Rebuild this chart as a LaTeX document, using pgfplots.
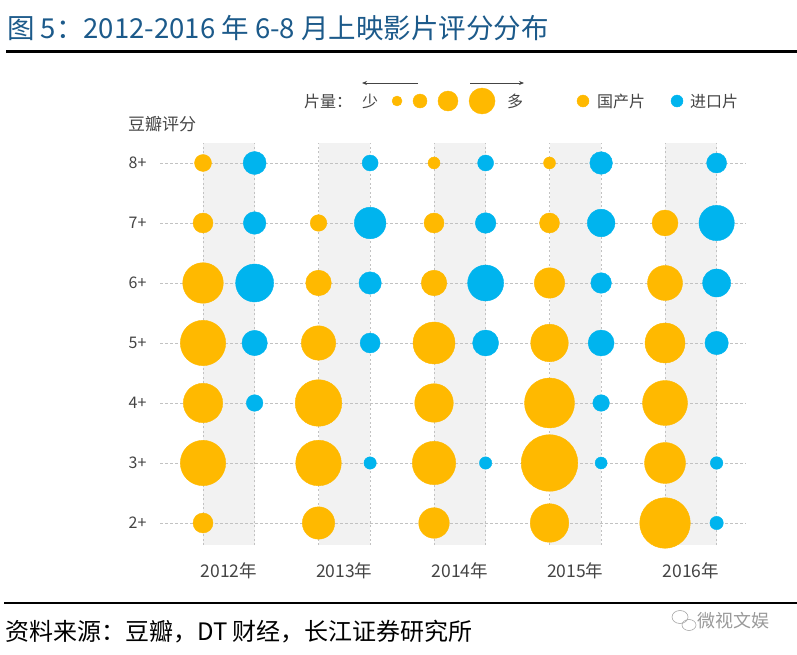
\documentclass[border=0pt]{standalone}
\usepackage{pgfplots}
\pgfplotsset{compat=1.18}
\usepackage{pgfplotstable}
\usetikzlibrary{arrows.meta}
\usepackage{fontspec}
\setmainfont{Noto Sans CJK SC}
\definecolor{orangeC}{HTML}{FFB900}
\definecolor{blueC}{HTML}{00B4EE}
\definecolor{bandC}{HTML}{F2F2F2}
\definecolor{gridC}{HTML}{C2C2C2}
\definecolor{titleC}{HTML}{1C5A8A}
\definecolor{txtC}{HTML}{444444}
\pgfplotstableread{
x y r
0 8 8.5
0 7 10
0 6 20.3
0 5 22.7
0 4 19.7
0 3 22.7
0 2 10
1 7 8.3
1 6 12.8
1 5 17.2
1 4 23.3
1 3 22.8
1 2 16.2
2 8 6
2 7 10
2 6 12.8
2 5 21
2 4 19.3
2 3 21.7
2 2 15.3
3 8 6
3 7 10
3 6 15.2
3 5 18.8
3 4 25
3 3 28.3
3 2 19.3
4 7 13
4 6 17.5
4 5 20
4 4 22.5
4 3 20.5
4 2 25.3
}\domtab
\pgfplotstableread{
x y r
0.447 8 11.5
0.447 7 11.3
0.447 6 19
0.447 5 12.7
0.447 4 8.3
1.447 8 8
1.447 7 15.8
1.447 6 11.2
1.447 5 10
1.447 3 6.2
2.447 8 8
2.447 7 10.3
2.447 6 18
2.447 5 13
2.447 3 6.2
3.447 8 11.3
3.447 7 13.8
3.447 6 10.3
3.447 5 13
3.447 4 8.3
3.447 3 6
4.447 8 10
4.447 7 17.7
4.447 6 14
4.447 5 11.7
4.447 3 6.3
4.447 2 6.7
}\imptab
\pgfplotstableread{
x y r
1.680 9.033 5
1.879 9.033 7
2.121 9.033 10
2.416 9.033 13
3.290 9.033 6
}\legdom
\pgfplotstableread{
x y r
4.104 9.033 6
}\legimp
\begin{document}
\begin{tikzpicture}
\path[use as bounding box] (0,0) rectangle (797pt,654pt);
\begin{axis}[
  at={(160pt,109pt)}, anchor=south west,
  x=115.5pt, y=60pt,
  xmin=-0.3723, xmax=4.693, ymin=1.6333, ymax=8.3333,
  clip=false,
  axis line style={draw=none},
  tick style={draw=none},
  ytick={2,3,4,5,6,7,8},
  yticklabels={2+,3+,4+,5+,6+,7+,8+},
  xtick={0.2235,1.2235,2.2235,3.2235,4.2235},
  xticklabels={2012年,2013年,2014年,2015年,2016年},
  yticklabel style={font=\fontsize{16}{16}\selectfont, text=txtC, anchor=east, xshift=-10pt},
  xticklabel style={font=\fontsize{17.5}{17.5}\selectfont, text=txtC, anchor=center, yshift=-26pt},
]
\fill[bandC] (axis cs:0,1.6333) rectangle (axis cs:0.447,8.3333);
\fill[bandC] (axis cs:1,1.6333) rectangle (axis cs:1.447,8.3333);
\fill[bandC] (axis cs:2,1.6333) rectangle (axis cs:2.447,8.3333);
\fill[bandC] (axis cs:3,1.6333) rectangle (axis cs:3.447,8.3333);
\fill[bandC] (axis cs:4,1.6333) rectangle (axis cs:4.447,8.3333);
\pgfplotsinvokeforeach{2,3,4,5,6,7,8}{
  \draw[gridC, line width=0.8pt, dash pattern=on 2.5pt off 2.5pt] (axis cs:-0.3723,#1) -- (axis cs:4.693,#1);
}
\pgfplotsinvokeforeach{0,0.447,1,1.447,2,2.447,3,3.447,4,4.447}{
  \draw[gridC, line width=0.8pt, dash pattern=on 2pt off 2.5pt] (axis cs:#1,1.6333) -- (axis cs:#1,8.3333);
}
\addplot[scatter, only marks, mark=*, point meta=explicit,
  scatter/use mapped color={draw=orangeC, fill=orangeC},
  visualization depends on={\thisrow{r} \as \rad},
  scatter/@pre marker code/.append style={/tikz/mark size=\rad pt}]
  table[x=x, y=y, meta=r] {\domtab};
\addplot[scatter, only marks, mark=*, point meta=explicit,
  scatter/use mapped color={draw=blueC, fill=blueC},
  visualization depends on={\thisrow{r} \as \rad},
  scatter/@pre marker code/.append style={/tikz/mark size=\rad pt}]
  table[x=x, y=y, meta=r] {\imptab};
\addplot[scatter, only marks, mark=*, point meta=explicit,
  scatter/use mapped color={draw=orangeC, fill=orangeC},
  visualization depends on={\thisrow{r} \as \rad},
  scatter/@pre marker code/.append style={/tikz/mark size=\rad pt}]
  table[x=x, y=y, meta=r] {\legdom};
\addplot[scatter, only marks, mark=*, point meta=explicit,
  scatter/use mapped color={draw=blueC, fill=blueC},
  visualization depends on={\thisrow{r} \as \rad},
  scatter/@pre marker code/.append style={/tikz/mark size=\rad pt}]
  table[x=x, y=y, meta=r] {\legimp};
\end{axis}
\begin{scope}[x=1pt, y=-1pt, yshift=654pt]
  % title
  \node[anchor=west, text=titleC, font=\fontsize{27.5}{27.5}\selectfont, inner sep=0pt] at (7,28) {图 5：2012-2016 年 6-8 月上映影片评分分布};
  \draw[black, line width=3pt] (6,52) -- (797,52);
  % chart texts
  \node[anchor=west, text=txtC, font=\fontsize{17}{17}\selectfont, inner sep=0pt] at (128,124) {豆瓣评分};
  \node[anchor=west, text=txtC, font=\fontsize{16}{16}\selectfont, inner sep=0pt] at (304,101) {片量：};
  \node[anchor=west, text=txtC, font=\fontsize{16}{16}\selectfont, inner sep=0pt] at (362,101) {少};
  \node[anchor=west, text=txtC, font=\fontsize{16}{16}\selectfont, inner sep=0pt] at (507,101) {多};
  \node[anchor=west, text=txtC, font=\fontsize{16}{16}\selectfont, inner sep=0pt] at (597,101) {国产片};
  \node[anchor=west, text=txtC, font=\fontsize{16}{16}\selectfont, inner sep=0pt] at (690,101) {进口片};
  \draw[txtC, line width=0.8pt, -{Stealth[length=5pt,width=4pt]}] (418,83) -- (362,83);
  \draw[txtC, line width=0.8pt, -{Stealth[length=5pt,width=4pt]}] (470,83) -- (524,83);
  % footer
  \draw[black, line width=2.5pt] (4,603) -- (797,603);
  \node[anchor=west, text=black, font=\fontsize{24}{24}\selectfont, inner sep=0pt] at (5,632) {资料来源：豆瓣，DT 财经，长江证券研究所};
  \draw[gray!70, line width=0.6pt] (680,617) ellipse (8 and 6.5);
  \draw[gray!70, line width=0.6pt] (689,625) ellipse (7 and 5.5);
  \node[anchor=west, text=gray!80, font=\fontsize{18}{18}\selectfont, inner sep=0pt] at (697,621) {微视文娱};
\end{scope}
\end{tikzpicture}
\end{document}
